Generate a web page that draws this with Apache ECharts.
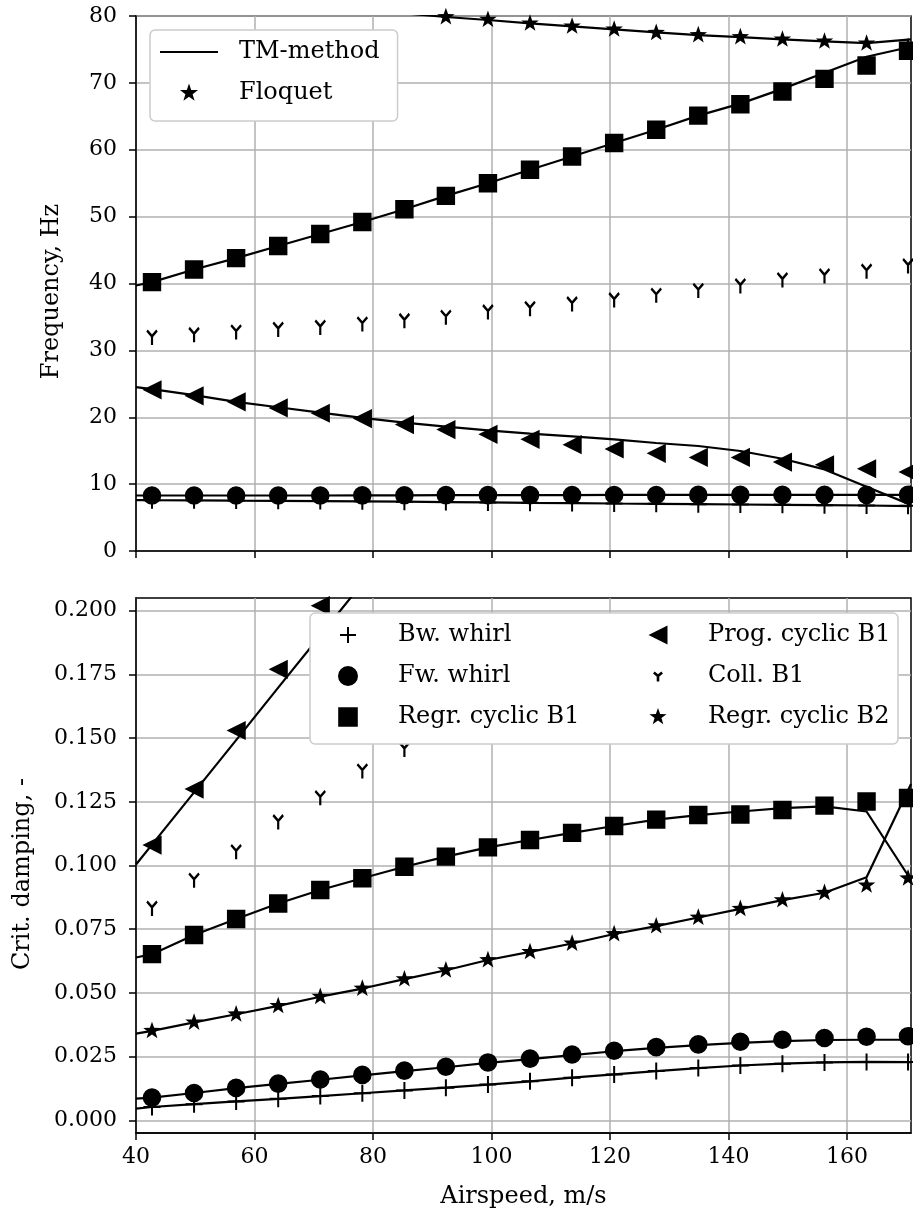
<!DOCTYPE html>
<html><head><meta charset="utf-8">
<script src="https://cdn.jsdelivr.net/npm/echarts@6/dist/echarts.min.js"></script>
<style>html,body{margin:0;padding:0;background:#fff}#chart{width:913px;height:1222px}</style>
</head><body><div id="chart"></div>
<script>
// ---------------- DATA ----------------
const airspeed   = [42.7, 49.8, 56.9, 64.0, 71.1, 78.2, 85.3, 92.3, 99.4, 106.5, 113.6, 120.7, 127.8, 134.9, 142.0, 149.1, 156.2, 163.3, 170.3];
const airspeedTM = [40, 42.7, 49.8, 56.9, 64.0, 71.1, 78.2, 85.3, 92.3, 99.4, 106.5, 113.6, 120.7, 127.8, 134.9, 142.0, 149.1, 156.2, 163.3, 170.8];
const xTicks     = [40, 60, 80, 100, 120, 140, 160];
const freqTicks  = [0, 10, 20, 30, 40, 50, 60, 70, 80];
const dampTicks  = [0, 0.025, 0.05, 0.075, 0.1, 0.125, 0.15, 0.175, 0.2];

// Floquet (markers) - frequency, Hz
const bwFreq    = [7.6, 7.58, 7.55, 7.5, 7.47, 7.43, 7.38, 7.33, 7.27, 7.22, 7.17, 7.1, 7.05, 7.0, 6.95, 6.9, 6.85, 6.8, 6.75];
const fwFreq    = [8.3, 8.3, 8.3, 8.3, 8.3, 8.32, 8.33, 8.35, 8.35, 8.36, 8.37, 8.38, 8.38, 8.39, 8.4, 8.4, 8.4, 8.4, 8.4];
const regB1Freq = [40.2, 42.1, 43.8, 45.6, 47.4, 49.2, 51.1, 53.1, 55.0, 57.0, 59.0, 61.0, 63.0, 65.1, 66.8, 68.7, 70.6, 72.6, 74.8];
const progFreq  = [24.1, 23.2, 22.3, 21.4, 20.6, 19.8, 18.9, 18.15, 17.45, 16.7, 15.9, 15.25, 14.6, 14.0, 14.0, 13.3, 12.9, 12.3, 11.8];
const collFreq  = [32.1, 32.5, 32.9, 33.3, 33.6, 34.1, 34.6, 35.1, 35.9, 36.4, 37.1, 37.7, 38.4, 39.1, 39.8, 40.7, 41.3, 42.0, 42.8];
const regB2Freq = [86.0, 84.8, 83.7, 82.7, 81.8, 81.0, 80.3, 79.85, 79.45, 78.9, 78.45, 78.0, 77.5, 77.15, 76.85, 76.5, 76.2, 75.9, 75.4];

// TM-method (lines) - frequency, Hz
const bwFreqTM    = [7.62, 7.6, 7.57, 7.53, 7.5, 7.46, 7.42, 7.37, 7.32, 7.27, 7.21, 7.16, 7.1, 7.05, 7.0, 6.95, 6.9, 6.85, 6.8, 6.72];
const fwFreqTM    = [8.3, 8.3, 8.3, 8.3, 8.3, 8.3, 8.32, 8.33, 8.35, 8.35, 8.36, 8.37, 8.38, 8.38, 8.39, 8.4, 8.4, 8.4, 8.4, 8.4];
const regB1FreqTM = [39.7, 40.2, 42.1, 43.8, 45.6, 47.4, 49.2, 51.1, 53.1, 55.0, 57.0, 59.0, 61.0, 63.0, 65.1, 66.9, 69.1, 71.5, 73.9, 75.4];
const progFreqTM  = [24.5, 24.2, 23.3, 22.3, 21.5, 20.7, 19.9, 19.2, 18.6, 18.05, 17.55, 17.15, 16.7, 16.15, 15.7, 14.95, 13.8, 12.2, 9.6, 6.9];
const regB2FreqTM = [86.5, 86.0, 84.8, 83.7, 82.7, 81.8, 81.0, 80.4, 79.85, 79.4, 78.9, 78.45, 78.0, 77.55, 77.15, 76.85, 76.5, 76.2, 75.95, 76.5];

// Floquet (markers) - critical damping
const bwDamp    = [0.0052, 0.0063, 0.0074, 0.0084, 0.0095, 0.0106, 0.0117, 0.0128, 0.014, 0.0153, 0.0167, 0.018, 0.0193, 0.0205, 0.0215, 0.0222, 0.0227, 0.0229, 0.0229];
const fwDamp    = [0.0089, 0.0107, 0.0127, 0.0144, 0.016, 0.0178, 0.0195, 0.021, 0.0227, 0.0242, 0.0258, 0.0273, 0.0287, 0.0298, 0.0308, 0.0316, 0.0323, 0.0328, 0.033];
const regB1Damp = [0.0652, 0.0727, 0.079, 0.0851, 0.0904, 0.095, 0.0995, 0.1035, 0.1071, 0.110, 0.1128, 0.1155, 0.118, 0.1198, 0.120, 0.1218, 0.1235, 0.1251, 0.1265];
const progDamp  = [0.108, 0.130, 0.153, 0.177, 0.202, null, null, null, null, null, null, null, null, null, null, null, null, null, null];
const collDamp  = [0.0836, 0.0946, 0.1058, 0.1175, 0.127, 0.1375, 0.146, null, null, null, null, null, null, null, null, null, null, null, null];
const regB2Damp = [0.0351, 0.0384, 0.0416, 0.0449, 0.0485, 0.0517, 0.0554, 0.0589, 0.0629, 0.0661, 0.0694, 0.0731, 0.0762, 0.0796, 0.083, 0.0864, 0.0893, 0.0922, 0.095];

// TM-method (lines) - critical damping
const bwDampTM    = [0.0046, 0.0052, 0.0063, 0.0074, 0.0084, 0.0095, 0.0106, 0.0117, 0.0128, 0.014, 0.0153, 0.0167, 0.018, 0.0193, 0.0205, 0.0215, 0.0222, 0.0227, 0.0229, 0.0228];
const fwDampTM    = [0.0085, 0.0089, 0.0107, 0.0126, 0.0143, 0.0159, 0.0176, 0.0193, 0.0208, 0.0225, 0.024, 0.0256, 0.0271, 0.0284, 0.0295, 0.0304, 0.0311, 0.0315, 0.0316, 0.0316];
const regB1DampTM = [0.0639, 0.0652, 0.0727, 0.079, 0.0851, 0.0904, 0.095, 0.0995, 0.1035, 0.1071, 0.110, 0.1128, 0.1155, 0.118, 0.1198, 0.1212, 0.1225, 0.1232, 0.1212, 0.0943];
const progDampTM  = [0.1004, 0.1082, 0.1287, 0.1492, 0.1698, 0.1903, 0.2108, 0.2313, null, null, null, null, null, null, null, null, null, null, null, null];
const regB2DampTM = [0.034, 0.0351, 0.0384, 0.0416, 0.0449, 0.0485, 0.0517, 0.0554, 0.0589, 0.0629, 0.0661, 0.0694, 0.0731, 0.0762, 0.0796, 0.083, 0.0864, 0.0893, 0.0954, 0.132];

const modeNames = ['Bw. whirl', 'Fw. whirl', 'Regr. cyclic B1', 'Prog. cyclic B1', 'Coll. B1', 'Regr. cyclic B2'];

// ---------------- MARKER SHAPES ----------------
const FONT = 'DejaVu Serif';
function r2(v){ return Math.round(v*1000)/1000; }
function specks(w, h){ const a=w/2, b=h/2;
  return `M${r2(-a)},${r2(-b)} L${r2(-a+0.01)},${r2(-b)} L${r2(-a)},${r2(-b+0.01)} Z M${r2(a)},${r2(b)} L${r2(a-0.01)},${r2(b)} L${r2(a)},${r2(b-0.01)} Z `; }
function seg(x0,y0,x1,y1,h){ const L=Math.hypot(x1-x0,y1-y0), dx=(x1-x0)/L, dy=(y1-y0)/L, nx=-dy*h, ny=dx*h;
  const sx=x0-dx*h*0.6, sy=y0-dy*h*0.6;
  return `M${r2(sx+nx)},${r2(sy+ny)} L${r2(x1+nx)},${r2(y1+ny)} L${r2(x1-nx)},${r2(y1-ny)} L${r2(sx-nx)},${r2(sy-ny)} Z `; }
function plusShape(s,t){ const h=t/2; return `M${-h},${-s} L${h},${-s} L${h},${-h} L${s},${-h} L${s},${h} L${h},${h} L${h},${s} L${-h},${s} L${-h},${h} L${-s},${h} L${-s},${-h} L${-h},${-h} Z `; }
function circleShape(r){ return `M${-r},0 A${r},${r} 0 1 1 ${r},0 A${r},${r} 0 1 1 ${-r},0 Z `; }
function squareShape(a){ return `M${-a},${-a} L${a},${-a} L${a},${a} L${-a},${a} Z `; }
function triLeftShape(a){ return `M${-a},0 L${a},${-a} L${a},${a} Z `; }
function yShape(r,phi,t){ const h=t/2, c=Math.cos(phi*Math.PI/180)*r, s=Math.sin(phi*Math.PI/180)*r;
  return seg(0,0,0,r,h) + seg(0,0,c,-s,h) + seg(0,0,-c,-s,h); }
function starShape(R){ let p=''; for(let k=0;k<10;k++){ const rr=(k%2===0)?R:R*0.40; const ang=(-90+36*k)*Math.PI/180;
  p += (k===0?'M':'L') + r2(rr*Math.cos(ang)) + ',' + r2(rr*Math.sin(ang)) + ' '; } return p + 'Z '; }
function sym(shape, w, h){ return { symbol: 'path://' + shape + specks(w,h), symbolSize: [w,h], symbolKeepAspect: true }; }
function icon(shape, w, h){ return 'path://' + shape + specks(w,h); }

const yR = 8.6, yPhi = 42, yT = 2.8;
const markers = {
  'Bw. whirl':       sym(plusShape(8.5, 2), 17, 17),
  'Fw. whirl':       sym(circleShape(9.3), 18.6, 18.6),
  'Regr. cyclic B1': sym(squareShape(9.2), 18.4, 18.4),
  'Prog. cyclic B1': sym(triLeftShape(9.6), 19.2, 19.2),
  'Coll. B1':        sym(yShape(yR, yPhi, yT), 2*(yR*Math.cos(yPhi*Math.PI/180)+yT/2), 2*(yR+yT/2)),
  'Regr. cyclic B2': sym(starShape(9.2), 18.4, 18.4)
};
const legendIcons = {
  'Bw. whirl':       icon(plusShape(8, 2), 26, 26),
  'Fw. whirl':       icon(circleShape(10), 26, 26),
  'Regr. cyclic B1': icon(squareShape(9.8), 26, 26),
  'Prog. cyclic B1': icon(triLeftShape(9.5), 26, 26),
  'Coll. B1':        icon(yShape(5.4, 40, 2.6), 26, 26),
  'Regr. cyclic B2': icon(starShape(9), 26, 26)
};

// ---------------- SERIES ----------------
function pairs(xs, ys){ const out=[]; xs.forEach((x,i)=>{ if(ys[i]!==null && ys[i]!==undefined) out.push([x, ys[i]]); }); return out; }
function tmLine(ys, gi){ return { name:'TM-method', type:'line', xAxisIndex:gi, yAxisIndex:gi, data: pairs(airspeedTM, ys),
  symbol:'none', lineStyle:{color:'#000', width:2.2, opacity:1}, itemStyle:{color:'#000', opacity:1}, z:2, silent:true, clip:true }; }
function floq(name, ys, gi){ const m = markers[name]; return Object.assign({ name, type:'scatter', xAxisIndex:gi, yAxisIndex:gi,
  data: pairs(airspeed, ys), itemStyle:{color:'#000', borderWidth:0, opacity:1}, z:3, silent:true, clip:true }, m); }

const series = [
  tmLine(bwFreqTM,0), tmLine(fwFreqTM,0), tmLine(regB1FreqTM,0), tmLine(progFreqTM,0), tmLine(regB2FreqTM,0),
  floq('Bw. whirl', bwFreq, 0), floq('Fw. whirl', fwFreq, 0), floq('Regr. cyclic B2', regB2Freq, 0),
  floq('Regr. cyclic B1', regB1Freq, 0), floq('Prog. cyclic B1', progFreq, 0), floq('Coll. B1', collFreq, 0),
  tmLine(bwDampTM,1), tmLine(fwDampTM,1), tmLine(regB1DampTM,1), tmLine(progDampTM,1), tmLine(regB2DampTM,1),
  floq('Bw. whirl', bwDamp, 1), floq('Fw. whirl', fwDamp, 1), floq('Regr. cyclic B1', regB1Damp, 1),
  floq('Prog. cyclic B1', progDamp, 1), floq('Coll. B1', collDamp, 1), floq('Regr. cyclic B2', regB2Damp, 1),
  { name:'Floquet', type:'scatter', xAxisIndex:0, yAxisIndex:0, data:[], itemStyle:{color:'#000', opacity:1} }
];

// ---------------- AXES ----------------
function xAxis(gi, showLabels){ return {
  type:'value', gridIndex:gi, min:40, max:170.8,
  axisLine:{ show:true, onZero:false, lineStyle:{color:'#000', width:1.5} },
  axisTick:{ show:true, inside:false, length:7, customValues: xTicks, lineStyle:{color:'#000', width:1.5} },
  axisLabel:{ show:showLabels, customValues: xTicks, margin:13, color:'#000', fontFamily:FONT, fontSize:22 },
  splitLine:{ show:true, lineStyle:{ color:'#b0b0b0', width:1.5 } },
  name: showLabels ? 'Airspeed, m/s' : '', nameLocation:'middle', nameGap:52,
  nameTextStyle:{ color:'#000', fontFamily:FONT, fontSize:24 }
}; }

const legendItemStyle = { color:'#000', borderWidth:0, opacity:1 };
const option = {
  animation:false,
  backgroundColor:'#fff',
  grid:[
    { left:136, right:2, top:16, height:535, show:true, borderColor:'#000', borderWidth:1.5, backgroundColor:'transparent' },
    { left:136, right:2, top:598, height:535, show:true, borderColor:'#000', borderWidth:1.5, backgroundColor:'transparent' }
  ],
  xAxis:[ xAxis(0,false), xAxis(1,true) ],
  yAxis:[
    { type:'value', gridIndex:0, min:0, max:80, interval:10,
      axisLine:{ show:true, lineStyle:{color:'#000', width:1.5} },
      axisTick:{ show:true, inside:false, length:7, customValues: freqTicks, lineStyle:{color:'#000', width:1.5} },
      axisLabel:{ customValues: freqTicks, margin:19, color:'#000', fontFamily:FONT, fontSize:22 },
      splitLine:{ show:true, lineStyle:{ color:'#b0b0b0', width:1.5 } },
      name:'Frequency, Hz', nameLocation:'middle', nameGap:72,
      nameTextStyle:{ color:'#000', fontFamily:FONT, fontSize:24, padding:[0,16,0,0] } },
    { type:'value', gridIndex:1, min:-0.005, max:0.205,
      axisLine:{ show:true, lineStyle:{color:'#000', width:1.5} },
      axisTick:{ show:true, inside:false, length:7, customValues: dampTicks, lineStyle:{color:'#000', width:1.5} },
      axisLabel:{ customValues: dampTicks, margin:19, color:'#000', fontFamily:FONT, fontSize:22, formatter:(v)=>Number(v).toFixed(3) },
      splitLine:{ show:true, lineStyle:{ color:'#b0b0b0', width:1.5 } },
      name:'Crit. damping, -', nameLocation:'middle', nameGap:101,
      nameTextStyle:{ color:'#000', fontFamily:FONT, fontSize:24, padding:[0,17,0,0] } }
  ],
  legend:[
    { orient:'vertical', left:150, top:30, padding:[8,18,14,10], itemGap:13, itemWidth:58, itemHeight:20,
      selectedMode:false, backgroundColor:'#fff', borderColor:'#cccccc', borderWidth:1.5, borderRadius:5, z:6,
      itemStyle: legendItemStyle,
      textStyle:{ color:'#000', fontFamily:FONT, fontSize:24, lineHeight:28, width:140, padding:[0,0,0,16] },
      data:[ { name:'TM-method', icon: icon('M-29,-1.1 L29,-1.1 L29,1.1 L-29,1.1 Z ', 58, 20) },
             { name:'Floquet', icon: icon(starShape(9.5), 58, 20) } ] },
    { orient:'vertical', left:310, top:613, padding:[8,310,13,25], itemGap:13, itemWidth:26, itemHeight:26,
      selectedMode:false, backgroundColor:'#fff', borderColor:'#cccccc', borderWidth:1.5, borderRadius:5, z:6,
      itemStyle: legendItemStyle,
      textStyle:{ color:'#000', fontFamily:FONT, fontSize:24, lineHeight:28, width:190, padding:[0,0,0,32] },
      data: modeNames.slice(0,3).map(n=>({ name:n, icon: legendIcons[n] })) },
    { orient:'vertical', left:645, top:613, padding:[8,0,13,0], itemGap:13, itemWidth:26, itemHeight:26,
      selectedMode:false, z:7,
      itemStyle: legendItemStyle,
      textStyle:{ color:'#000', fontFamily:FONT, fontSize:24, lineHeight:28, width:190, padding:[0,0,0,32] },
      data: modeNames.slice(3).map(n=>({ name:n, icon: legendIcons[n] })) }
  ],
  series
};

const chart = echarts.init(document.getElementById('chart'), null, { renderer:'canvas' });
chart.setOption(option);
</script></body></html>
